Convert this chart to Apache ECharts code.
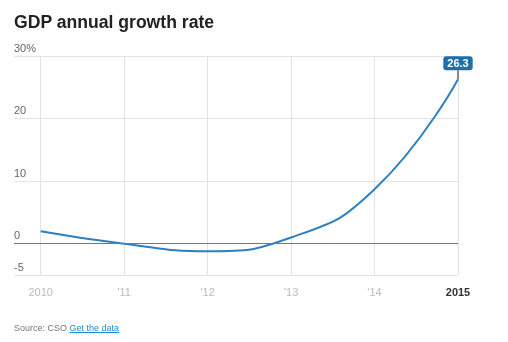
<!DOCTYPE html>
<html><head><meta charset="utf-8">
<script src="https://cdn.jsdelivr.net/npm/echarts@6/dist/echarts.min.js"></script>
<style>
html,body{margin:0;padding:0;background:#fff;}
#title{position:absolute;left:14px;top:12px;font:bold 17.6px "Liberation Sans",Arial,sans-serif;color:#222;}
#chart{position:absolute;left:0;top:0;width:508px;height:342px;}
#src{position:absolute;left:14px;top:323px;font:9px "Liberation Sans",Arial,sans-serif;color:#777;}
#src a{color:#1a8fd6;text-decoration:underline;}
</style>
</head><body>
<div id="chart"></div>
<div id="title">GDP annual growth rate</div>
<div id="src">Source: CSO <a>Get the data</a></div>
<script>
const years = [2010, 2011, 2012, 2013, 2014, 2015];
const growth = [2.0, 0.0, -1.2, 1.0, 8.7, 26.3];
const yTicks = [-5, 0, 10, 20, 30];

const chart = echarts.init(document.getElementById('chart'), null, {renderer:'canvas'});
const last = years.length - 1;
chart.setOption({
  animation:false,
  textStyle:{fontFamily:'"Liberation Sans", Arial, sans-serif'},
  grid:{left:14, right:50, top:56, bottom:67},
  xAxis:{
    type:'value', min:2009.68, max:2015,
    axisLine:{show:true, lineStyle:{color:'#ddd'}},
    axisTick:{show:false, customValues:years},
    splitLine:{show:true, lineStyle:{color:'#e3e3e3'}},
    axisLabel:{customValues:years, margin:12, fontSize:11, color:'#bbb',
      formatter:function(v){
        if(v===years[0]) return String(v);
        if(v===years[last]) return '{b|'+v+'}';
        return "'"+String(v).slice(2);
      },
      rich:{b:{fontWeight:'bold', color:'#333', fontSize:11}}
    }
  },
  yAxis:{
    type:'value', min:-5, max:30,
    axisLine:{show:false},
    axisTick:{show:false, customValues:yTicks},
    splitLine:{show:true, lineStyle:{color:'#e3e3e3'}},
    axisLabel:{customValues:yTicks, inside:true, margin:0, fontSize:11, color:'#666',
      verticalAlign:'bottom', padding:[0,0,2,0],
      formatter:function(v){ return v===30 ? v+'%' : String(v); }
    }
  },
  series:[{
    type:'line', smooth:0.5, symbol:'none',
    data: years.map((y,i)=>[y, growth[i]]),
    lineStyle:{color:'#2e7fc1', width:2},
    label:{show:false},
    markLine:{silent:true, symbol:'none', label:{show:false},
      lineStyle:{color:'#777', type:'solid', width:1},
      data:[{yAxis:0}]},
    markPoint:{
      data:[{coord:[years[last], growth[last]], value:growth[last]}],
      symbol:'rect', symbolSize:[2,9], symbolOffset:[0,-4.5],
      itemStyle:{color:'#888'},
      label:{show:true, position:'top', distance:0, formatter:'{c}',
        color:'#fff', fontSize:11, fontWeight:'bold',
        backgroundColor:'#1f6fa8', borderRadius:3, padding:[2,4,1,4]}
    }
  }]
});
</script>
</body></html>
